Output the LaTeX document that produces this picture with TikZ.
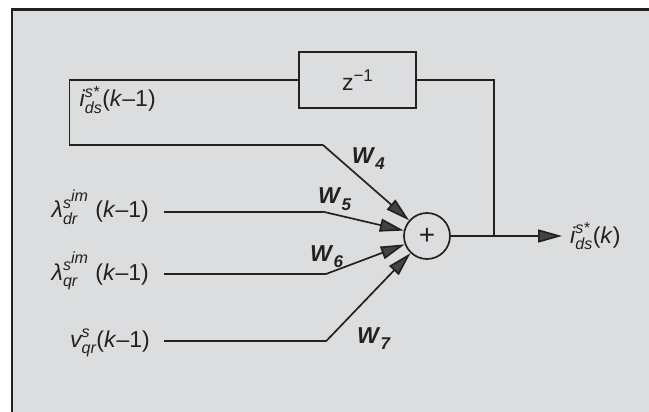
\documentclass[tikz,border=0pt]{standalone}
\usepackage{fontspec}
\usepackage{amsmath}
\setmainfont{Liberation Sans}
\usetikzlibrary{arrows.meta}
\definecolor{bg}{HTML}{DCDDDF}
\definecolor{ink}{HTML}{222222}
\newcommand{\vv}[1]{\textit{#1}}
\newcommand{\wsub}[1]{\textbf{\vv{W}}\raisebox{-6pt}{\fontsize{17}{17}\selectfont\textbf{\vv{#1}}}}
\begin{document}
\begin{tikzpicture}[x=1pt,y=-1pt,
  font=\fontsize{23}{27}\selectfont,
  every node/.style={text=ink},
  wire/.style={draw=ink, line width=1.7pt},
  tip/.style={-{Triangle[length=24pt,width=13pt,fill=ink!85]}},
  lab/.style={inner sep=0pt},
  wlab/.style={inner sep=0pt, anchor=base west}]
\useasboundingbox (0,0) rectangle (649,412);
\fill[bg] (12,9.5) rectangle (649,412);
\draw[ink, line width=2.5pt] (12,412) -- (12,9.5) -- (649,9.5);

\node[draw=ink, line width=1.7pt, minimum width=117pt, minimum height=56pt, inner sep=0pt] (delay) at (357.5,79.7) {z\raisebox{9pt}{\fontsize{17}{17}\selectfont −1}};
\node[draw=ink, circle, line width=1.7pt, minimum size=46pt, inner sep=0pt, font=\fontsize{28}{28}\selectfont] (sum) at (427,236) {+};

\coordinate (fbtl) at (69.5,79.7);
\coordinate (fbbl) at (69.5,145);
\coordinate (k4) at (323,145);
\coordinate (jn) at (494,236);
\coordinate (jt) at (494,79.7);
\coordinate (outend) at (562,236);
\coordinate (s5) at (163.5,211.7);
\coordinate (k5) at (323,211.7);
\coordinate (s6) at (163.5,274);
\coordinate (k6) at (326,274);
\coordinate (s7) at (163.5,341.3);
\coordinate (k7) at (326,341.3);

\draw[wire] (delay.west) -- (fbtl) -- (fbbl) -- (k4);
\draw[wire, tip] (k4) -- (sum);
\draw[wire] (s5) -- (k5);
\draw[wire, tip] (k5) -- (sum);
\draw[wire] (s6) -- (k6);
\draw[wire, tip] (k6) -- (sum);
\draw[wire] (s7) -- (k7);
\draw[wire, tip] (k7) -- (sum);
\draw[wire] (delay.east) -- (jt) -- (jn);
\draw[wire, tip] (sum.east) -- (outend);

\node[lab, anchor=base west] (in4) at (79.5,107) {$\vv{i}^{\vv{s*}}_{\vv{ds}}$(\vv{k}–1)};
\node[lab, anchor=base east] (in5) at (149,218) {$\vv{λ}^{\vv{s}^{\scriptstyle\vv{im}}}_{\vv{dr}}$ (\vv{k}–1)};
\node[lab, anchor=base east] (in6) at (149,280) {$\vv{λ}^{\vv{s}^{\scriptstyle\vv{im}}}_{\vv{qr}}$ (\vv{k}–1)};
\node[lab, anchor=base east] (in7) at (150,347) {$\vv{v}^{\vv{s}}_{\vv{qr}}$(\vv{k}–1)};
\node[lab, anchor=base west] (yout) at (570,243) {$\vv{i}^{\vv{s*}}_{\vv{ds}}$(\vv{k})};

\node[wlab] (w4) at (351.7,164) {\wsub{4}};
\node[wlab] (w5) at (318,204) {\wsub{5}};
\node[wlab] (w6) at (310,261.7) {\wsub{6}};
\node[wlab] (w7) at (357,343.3) {\wsub{7}};
\end{tikzpicture}
\end{document}
